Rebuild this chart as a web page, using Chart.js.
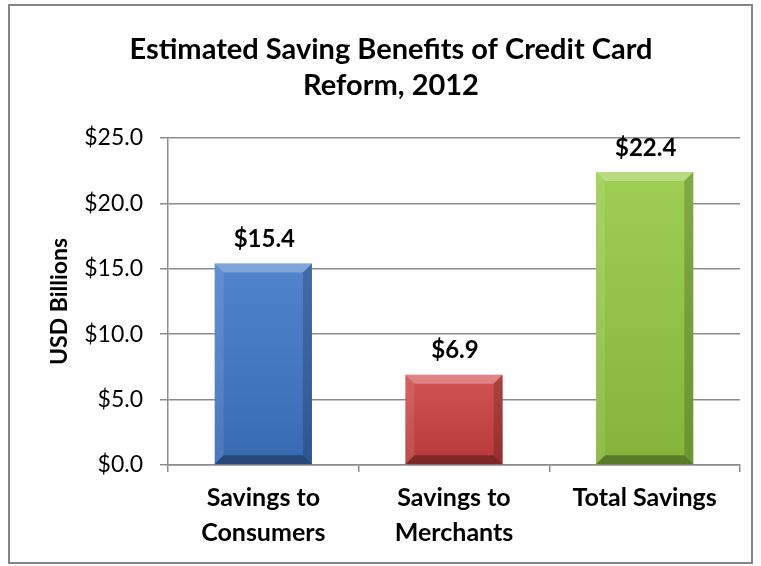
<!DOCTYPE html>
<html>
<head>
<meta charset="utf-8">
<script src="https://cdn.jsdelivr.net/npm/chart.js@4/dist/chart.umd.min.js"></script>
<style>
    html, body { margin: 0; padding: 0; background: #ffffff; }
    #wrap { width: 761px; height: 566px; }
</style>
</head>
<body>
<div id="wrap"><canvas id="savingsChart" width="761" height="566"></canvas></div>
<script>
const categories = [["Savings to", "Consumers"], ["Savings to", "Merchants"], "Total Savings"];
const savings = [15.4, 6.9, 22.4];
const barColors = ["#3d76c6", "#cc3f3f", "#93c940"];
const yTicks = [0, 5, 10, 15, 20, 25];

const fontFamily = "Lato, 'Liberation Sans', sans-serif";
const gridGray = "#8c8c8c";

// frame around the whole chart
const framePlugin = {
    id: 'frame',
    beforeDraw(chart) {
        const ctx = chart.ctx;
        ctx.save();
        ctx.fillStyle = '#ffffff';
        ctx.fillRect(0, 0, chart.width, chart.height);
        ctx.strokeStyle = '#868686';
        ctx.lineWidth = 2;
        ctx.strokeRect(9, 5, 743, 558);
        ctx.restore();
    }
};

// bevelled edges on each bar
const bevelPlugin = {
    id: 'bevel',
    afterDatasetsDraw(chart) {
        const ctx = chart.ctx;
        const meta = chart.getDatasetMeta(0);
        const b = 9;
        meta.data.forEach((bar) => {
            const p = bar.getProps(['x', 'y', 'base', 'width'], true);
            const l = p.x - p.width / 2, r = p.x + p.width / 2;
            const t = p.y, bot = p.base;
            const poly = (pts, fill) => {
                ctx.beginPath();
                ctx.moveTo(pts[0][0], pts[0][1]);
                for (let i = 1; i < pts.length; i++) ctx.lineTo(pts[i][0], pts[i][1]);
                ctx.closePath();
                ctx.fillStyle = fill;
                ctx.fill();
            };
            ctx.save();
            // soft shading across the face
            const g = ctx.createLinearGradient(0, t, 0, bot);
            g.addColorStop(0, 'rgba(255,255,255,0.10)');
            g.addColorStop(1, 'rgba(0,0,0,0.10)');
            ctx.fillStyle = g;
            ctx.fillRect(l, t, r - l, bot - t);
            poly([[l, t], [r, t], [r - b, t + b], [l + b, t + b]], 'rgba(255,255,255,0.28)');
            poly([[l, t], [l + b, t + b], [l + b, bot - b], [l, bot]], 'rgba(255,255,255,0.10)');
            poly([[r, t], [r - b, t + b], [r - b, bot - b], [r, bot]], 'rgba(0,0,0,0.18)');
            poly([[l, bot], [l + b, bot - b], [r - b, bot - b], [r, bot]], 'rgba(0,0,0,0.32)');
            ctx.restore();
        });
    }
};

// value labels above the bars
const valueLabelPlugin = {
    id: 'valueLabels',
    afterDatasetsDraw(chart) {
        const ctx = chart.ctx;
        const meta = chart.getDatasetMeta(0);
        ctx.save();
        ctx.font = "bold 24px " + fontFamily;
        ctx.fillStyle = '#000000';
        ctx.textAlign = 'center';
        ctx.textBaseline = 'middle';
        meta.data.forEach((bar, i) => {
            ctx.fillText('$' + savings[i].toFixed(1), bar.x + 1, bar.y - 24);
        });
        ctx.restore();
    }
};

new Chart(document.getElementById('savingsChart'), {
    type: 'bar',
    data: {
        labels: categories,
        datasets: [{
            data: savings,
            backgroundColor: barColors,
            borderWidth: 0,
            barPercentage: 0.51,
            categoryPercentage: 1.0
        }]
    },
    plugins: [framePlugin, bevelPlugin, valueLabelPlugin],
    options: {
        responsive: false,
        animation: false,
        layout: {
            padding: { left: 42, right: 21, top: 10, bottom: 0 }
        },
        plugins: {
            legend: { display: false },
            tooltip: { enabled: false },
            title: {
                display: true,
                text: ["Estimated Saving Benefits of Credit Card", "Reform, 2012"],
                color: '#000000',
                font: { family: fontFamily, size: 29, weight: 'bold', lineHeight: 1.24 },
                padding: { top: 21.5, bottom: 34.5 }
            }
        },
        scales: {
            y: {
                min: 0,
                max: 25,
                afterBuildTicks(scale) {
                    scale.ticks = yTicks.map(v => ({ value: v }));
                },
                afterFit(scale) {
                    scale.width = 126;
                },
                ticks: {
                    color: '#000000',
                    padding: 17,
                    font: { family: fontFamily, size: 23 },
                    callback: (v) => '$' + Number(v).toFixed(1)
                },
                grid: {
                    color: gridGray,
                    lineWidth: 1.5,
                    tickLength: 8
                },
                border: { color: gridGray, width: 1.5 },
                title: {
                    display: true,
                    text: 'USD Billions',
                    color: '#000000',
                    font: { family: fontFamily, size: 23, weight: 'bold' }
                }
            },
            x: {
                afterFit(scale) {
                    scale.height = 101;
                },
                ticks: {
                    color: '#000000',
                    padding: 8.5,
                    maxRotation: 0,
                    font: { family: fontFamily, size: 25, weight: 'bold', lineHeight: 1.4 }
                },
                grid: {
                    offset: true,
                    drawOnChartArea: false,
                    color: gridGray,
                    lineWidth: 1.5,
                    tickLength: 7
                },
                border: { color: gridGray, width: 1.5 }
            }
        }
    }
});
</script>
</body>
</html>
